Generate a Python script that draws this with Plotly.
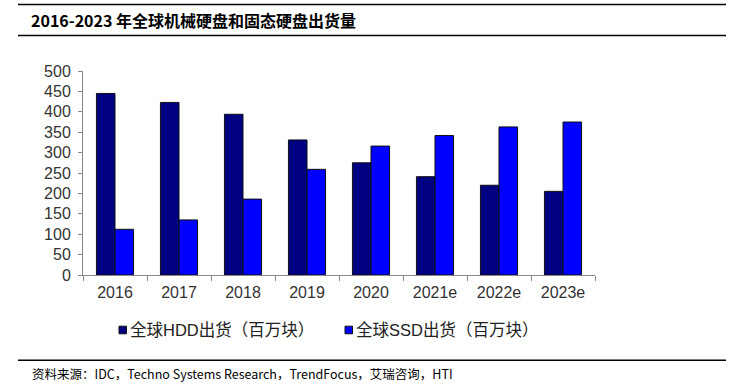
import plotly.graph_objects as go

years = ["2016", "2017", "2018", "2019", "2020", "2021e", "2022e", "2023e"]
hdd = [445, 423, 394, 331, 275, 241, 220, 205]
ssd = [112, 135, 186, 259, 316, 342, 363, 375]
hdd_name = "全球HDD出货（百万块）"
ssd_name = "全球SSD出货（百万块）"
title_text = "2016-2023 年全球机械硬盘和固态硬盘出货量"
source_text = "资料来源：IDC，Techno Systems Research，TrendFocus，艾瑞咨询，HTI"

# screen layout in pixels (body margin removed via post_script)
SW, SH = 739, 387
L, R, T, B = 83, 595, 71, 275

def fx(x):
    return x / SW

def fy(y):
    return 1 - y / SH

hdd_color = "#000080"
ssd_color = "#0000FF"

fig = go.Figure()
fig.add_trace(go.Bar(x=years, y=hdd, name=hdd_name,
                     marker=dict(color=hdd_color, line=dict(color="#111111", width=1))))
fig.add_trace(go.Bar(x=years, y=ssd, name=ssd_name,
                     marker=dict(color=ssd_color, line=dict(color="#111111", width=1))))

axis_font = dict(family="Liberation Sans, Arial", size=16, color="#333333")
fig.update_layout(
    width=SW, height=SH,
    margin=dict(l=0, r=0, t=0, b=0, pad=0, autoexpand=False),
    paper_bgcolor="white", plot_bgcolor="white",
    barmode="group", bargap=0.42, bargroupgap=0,
    showlegend=False,
    xaxis=dict(type="category", domain=[fx(L), fx(R)], showline=True,
               linecolor="#888888", linewidth=1,
               ticks="outside", tickson="boundaries", ticklen=5, tickcolor="#888888",
               tickfont=axis_font, showgrid=False, zeroline=False, ticklabelstandoff=3),
    yaxis=dict(range=[0, 500], dtick=50, domain=[fy(B), fy(T)], showline=True,
               linecolor="#888888", linewidth=1,
               ticks="outside", ticklen=4, tickcolor="#888888",
               tickfont=axis_font, showgrid=False, zeroline=False, ticklabelstandoff=4),
    font=dict(family="Noto Sans CJK SC"),
)

shapes = []
for yy in [4.6, 35.5, 360.3]:
    shapes.append(dict(type="line", xref="paper", yref="paper", layer="above",
                       x0=fx(18), x1=fx(726), y0=fy(yy), y1=fy(yy),
                       line=dict(color="black", width=1.5)))

# legend (manual)
legend_items = [(hdd_name, hdd_color, 119), (ssd_name, ssd_color, 345)]
leg_y = 330
for name, color, x0 in legend_items:
    shapes.append(dict(type="rect", xref="paper", yref="paper",
                       x0=fx(x0), x1=fx(x0 + 7.5), y0=fy(leg_y - 3.8), y1=fy(leg_y + 3.8),
                       fillcolor=color, line=dict(color="#111111", width=1)))
    fig.add_annotation(text=name, xref="paper", yref="paper",
                       x=fx(x0 + 9), y=fy(leg_y), xanchor="left", yanchor="middle",
                       showarrow=False,
                       font=dict(family="Liberation Sans, Noto Sans CJK SC", size=16.5, color="#222222"))
fig.update_layout(shapes=shapes)

fig.add_annotation(text="<b>" + title_text + "</b>", xref="paper", yref="paper",
                   x=fx(29), y=fy(20), xanchor="left", yanchor="middle", showarrow=False,
                   font=dict(family="Noto Sans CJK SC", size=16, color="black"))
fig.add_annotation(text=source_text, xref="paper", yref="paper",
                   x=fx(30), y=fy(373), xanchor="left", yanchor="middle", showarrow=False,
                   font=dict(family="Noto Sans CJK SC", size=12.5, color="black"))

fig.write_html("out.html",
               config={"displayModeBar": False},
               post_script="document.body.style.margin='0';document.body.style.overflow='hidden';")
